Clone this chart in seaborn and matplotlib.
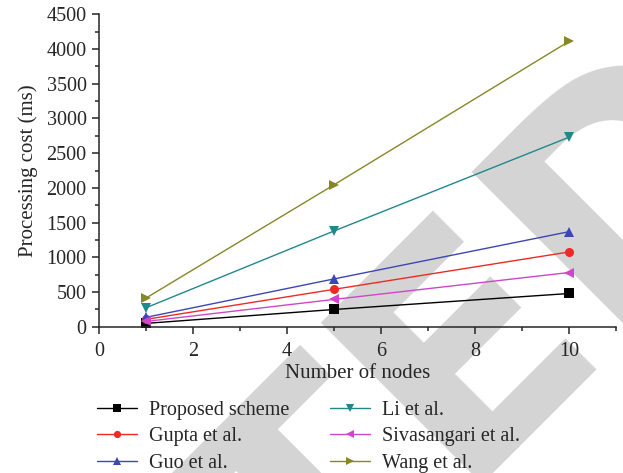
import numpy as np
import pandas as pd
import matplotlib
matplotlib.use("Agg")
import matplotlib.pyplot as plt
import seaborn as sns
from matplotlib.ticker import MultipleLocator

# values
nodes = [1, 5, 10]
proposed = [50, 250, 480]
gupta = [108, 540, 1078]
guo = [137, 690, 1370]
li = [275, 1380, 2730]
sivasangari = [78, 395, 782]
wang = [415, 2045, 4110]

series_names = ["Proposed scheme", "Gupta et al.", "Guo et al.",
                "Li et al.", "Sivasangari et al.", "Wang et al."]
series_vals = [proposed, gupta, guo, li, sivasangari, wang]
colors = ["#000000", "#ee2a24", "#3d46b5", "#21888a", "#cf46c9", "#878727"]
markers = ["s", "o", "^", "v", "<", ">"]

rows = []
for name, vals in zip(series_names, series_vals):
    for n, v in zip(nodes, vals):
        rows.append({"nodes": n, "cost": v, "method": name})
df = pd.DataFrame(rows)

sns.set_style("ticks")
plt.rcParams["font.family"] = ["Liberation Serif", "DejaVu Serif"]

fig = plt.figure(figsize=(6.23, 4.73), dpi=100)

# watermark behind the chart
fig.text(1.266, 0.684, "RETRACTED", fontsize=225, color="#d4d4d4",
         family="DejaVu Sans", fontweight="bold", rotation=45,
         rotation_mode="anchor", ha="right", va="baseline", zorder=0)

ax = fig.add_axes([0.159, 0.309, 0.830, 0.661])
ax.patch.set_alpha(0)
ax.set_zorder(1)

sns.lineplot(data=df, x="nodes", y="cost", hue="method", style="method",
             hue_order=series_names, style_order=series_names,
             palette=colors, markers=markers, dashes=False,
             markersize=6.5, linewidth=1.0, markeredgewidth=0,
             ax=ax)

ax.set_xlim(0, 11)
ax.set_ylim(0, 4500)
ax.xaxis.set_major_locator(MultipleLocator(2))
ax.xaxis.set_minor_locator(MultipleLocator(1))
ax.yaxis.set_major_locator(MultipleLocator(500))
ax.yaxis.set_minor_locator(MultipleLocator(250))
ax.tick_params(which="major", length=5, width=1.1, labelsize=14.5, pad=4)
ax.tick_params(axis="x", which="major", pad=6)
ax.tick_params(which="minor", length=3, width=1.1)
sns.despine(ax=ax)
for s in ["left", "bottom"]:
    ax.spines[s].set_linewidth(1.1)

ax.set_xlabel("Number of nodes", fontsize=15, labelpad=2)
ax.set_ylabel("Processing cost (ms)", fontsize=15, labelpad=6)

handles, labels = ax.get_legend_handles_labels()
ax.legend(handles, labels, ncol=2, frameon=False, fontsize=14.5,
          loc="upper left", bbox_to_anchor=(-0.02, -0.21),
          handlelength=2.0, handletextpad=0.6, columnspacing=2.0,
          labelspacing=0.38, markerscale=0.8, borderaxespad=0)

fig.savefig("out.png", dpi=100)
